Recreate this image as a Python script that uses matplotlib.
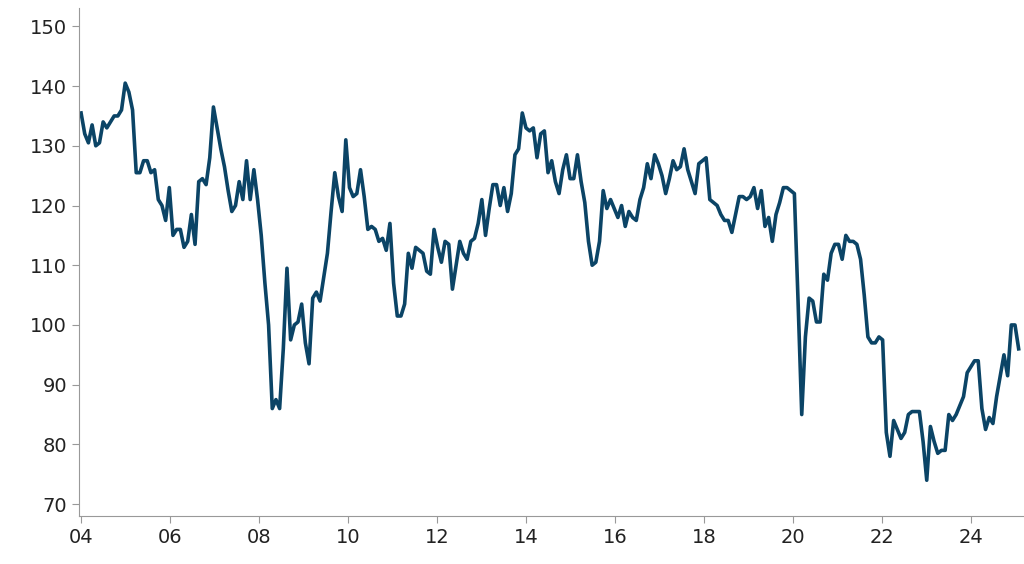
import matplotlib
matplotlib.use("Agg")
import matplotlib.pyplot as plt
import numpy as np

values = [
135.5,132,130.5,133.5,130,130.5,134,133,134,135,135,136,
140.5,139,136,125.5,125.5,127.5,127.5,125.5,126,121,120,117.5,
123,115,116,116,113,114,118.5,113.5,124,124.5,123.5,128,
136.5,133,129.5,126.5,122.5,119,120,124,121,127.5,121,126,
121,115,107,100,86,87.5,86,96,109.5,97.5,100,100.5,
103.5,97,93.5,104.5,105.5,104,108,112,119,125.5,121.5,119,
131,123,121.5,122,126,121.5,116,116.5,116,114,114.5,112.5,
117,107,101.5,101.5,103.5,112,109.5,113,112.5,112,109,108.5,
116,113,110.5,114,113.5,106,110,114,112,111,114,114.5,
117,121,115,119.5,123.5,123.5,120,123,119,122,128.5,129.5,
135.5,133,132.5,133,128,132,132.5,125.5,127.5,124,122,126,
128.5,124.5,124.5,128.5,124,120.5,114,110,110.5,114,122.5,119.5,
121,119.5,118,120,116.5,119,118,117.5,121,123,127,124.5,
128.5,127,125,122,124.5,127.5,126,126.5,129.5,126,124,122,
127,127.5,128,121,120.5,120,118.5,117.5,117.5,115.5,118.5,121.5,
121.5,121,121.5,123,119.5,122.5,116.5,118,114,118.5,120.5,123,
123,122.5,122,104,85,98,104.5,104,100.5,100.5,108.5,107.5,
112,113.5,113.5,111,115,114,114,113.5,111,105,98,97,
97,98,97.5,82,78,84,82.5,81,82,85,85.5,85.5,
85.5,80.5,74,83,80.5,78.5,79,79,85,84,85,86.5,
88,92,93,94,94,86,82.5,84.5,83.5,88,91.5,95,
91.5,100,100,96,
]
x = 2004 + np.arange(len(values)) / 12 * (21.08 / ((len(values) - 1) / 12))
xticks = list(range(2004, 2025, 2))
xlabels = [f"{y % 100:02d}" for y in xticks]
yticks = list(range(70, 151, 10))

fig = plt.figure(figsize=(10.24, 5.64), dpi=100)
ax = fig.add_axes([0.077, 0.085, 0.923, 0.9])
ax.plot(x, values, color="#0b4466", lw=2.6)
ax.set_xlim(2003.95, 2025.2)
ax.set_ylim(68, 153)
ax.set_xticks(xticks)
ax.set_xticklabels(xlabels)
ax.set_yticks(yticks)
for s in ["top", "right"]:
    ax.spines[s].set_visible(False)
for s in ["left", "bottom"]:
    ax.spines[s].set_color("#999999")
ax.tick_params(axis="both", colors="#999999", labelcolor="#222222", labelsize=14, length=5)
fig.savefig("out.png", dpi=100)
